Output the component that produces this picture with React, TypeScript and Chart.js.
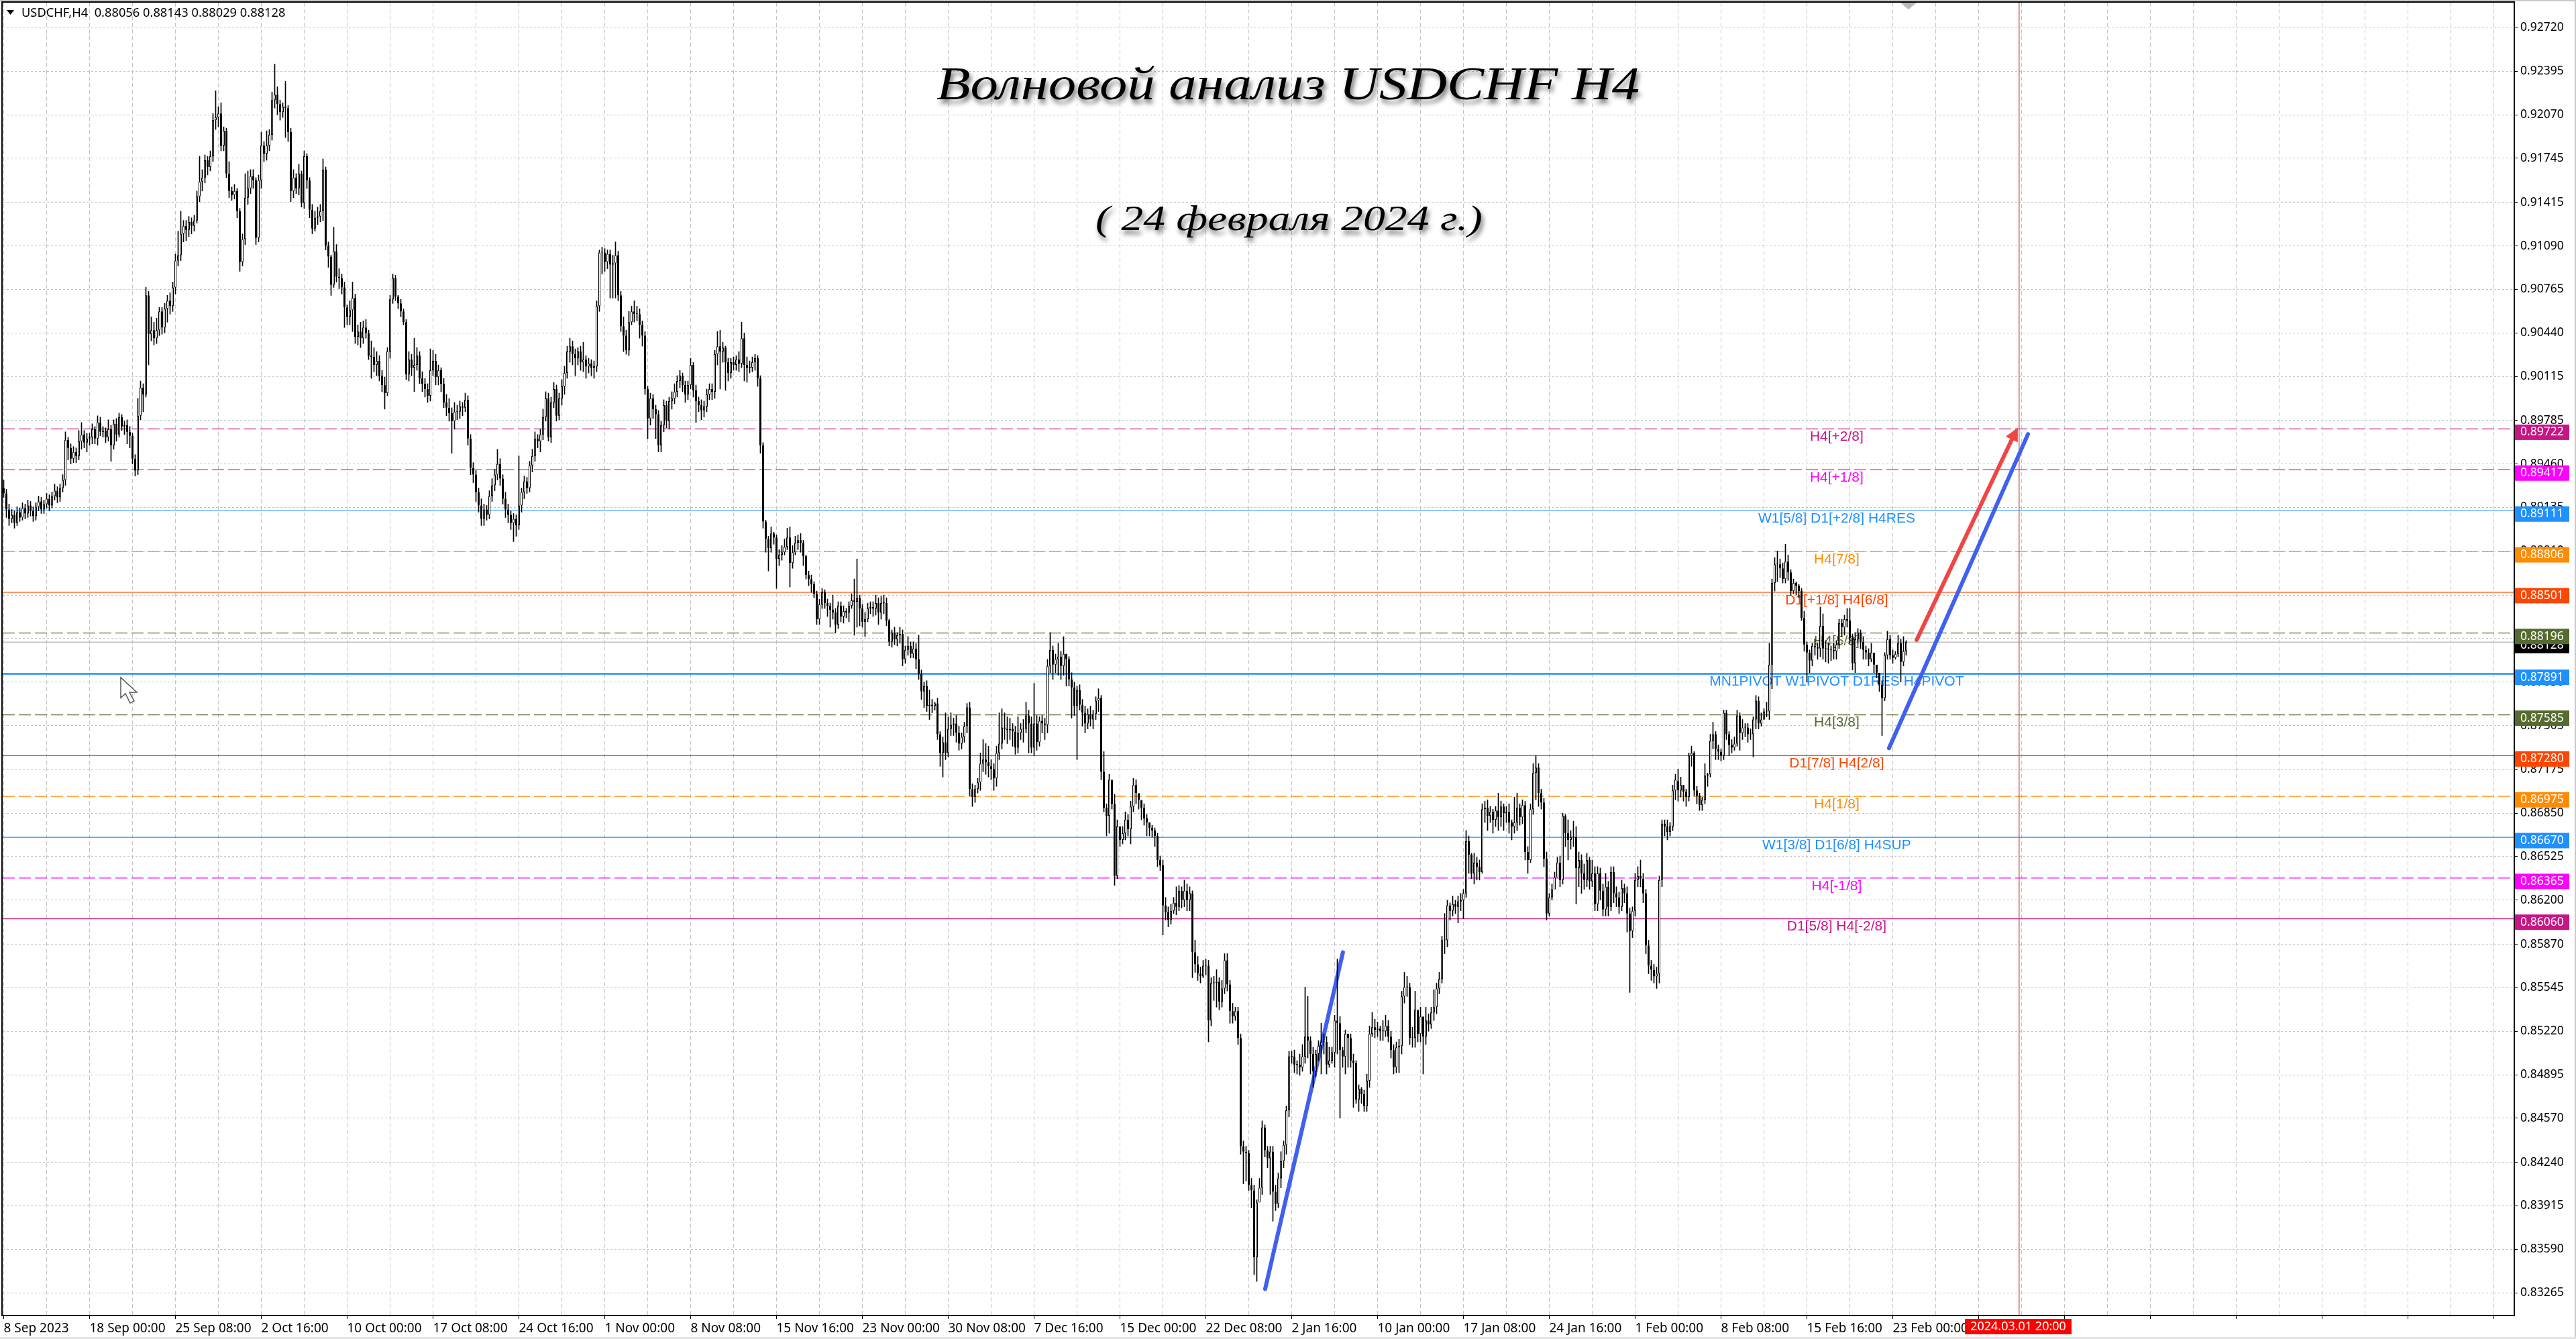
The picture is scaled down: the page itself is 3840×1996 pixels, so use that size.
import { useEffect, useRef } from "react";
import { Chart, registerables, type Plugin } from "chart.js";

Chart.register(...registerables);

// H4 candles, in units of 0.0001
const opens = [
  8928,8924,8912,8905,8908,8902,8910,8906,8913,8909,
  8915,8911,8907,8914,8918,8912,8916,8920,8915,8922,
  8926,8921,8928,8934,8964,8958,8950,8955,8952,8963,
  8968,8962,8965,8966,8972,8965,8977,8970,8971,8966,
  8972,8960,8976,8968,8981,8974,8975,8970,8967,8950,
  8941,8982,9003,8998,9072,9043,9046,9040,9046,9060,
  9048,9062,9068,9064,9078,9098,9102,9118,9124,9121,
  9127,9124,9128,9146,9157,9160,9173,9168,9176,9203,
  9205,9208,9184,9195,9163,9150,9147,9150,9135,9097,
  9114,9145,9152,9161,9158,9115,9158,9184,9178,9184,
  9192,9218,9222,9215,9209,9213,9212,9194,9150,9160,
  9152,9163,9141,9176,9158,9136,9122,9130,9131,9135,
  9166,9109,9101,9080,9105,9086,9085,9078,9063,9056,
  9061,9070,9041,9045,9040,9048,9044,9027,9026,9020,
  9023,9012,9005,8999,9030,9069,9085,9071,9066,9060,
  9052,9013,9024,9018,9020,9027,9010,9006,9002,8997,
  9016,9023,9011,9016,9006,8992,8988,8984,8978,8985,
  8985,8989,8988,8994,8965,8943,8938,8925,8915,8905,
  8912,8908,8922,8930,8938,8946,8935,8920,8912,8908,
  8902,8905,8900,8915,8925,8933,8928,8945,8952,8965,
  8963,8968,8981,8995,8966,8992,9002,8982,8995,9004,
  9014,9030,9034,9028,9025,9030,9022,9024,9019,9021,
  9018,9019,9064,9104,9104,9097,9103,9095,9096,9102,
  9072,9049,9042,9031,9052,9060,9058,9058,9050,9042,
  9002,8980,8995,8987,8983,8960,8975,8990,8978,8993,
  8995,9000,9008,9012,9005,8998,9005,9020,9001,8993,
  8990,8986,8989,8998,9002,9000,9028,9034,9030,9033,
  9022,9014,9022,9020,9024,9021,9040,9020,9018,9018,
  9022,9025,9010,8960,8903,8890,8883,8894,8891,8875,
  8878,8880,8884,8891,8872,8880,8887,8889,8887,8877,
  8863,8860,8856,8849,8830,8841,8850,8842,8840,8837,
  8835,8826,8840,8832,8836,8835,8840,8844,8843,8846,
  8838,8828,8830,8838,8839,8838,8842,8835,8842,8842,
  8829,8813,8820,8815,8818,8819,8800,8807,8810,8804,
  8808,8800,8789,8776,8780,8765,8766,8765,8767,8744,
  8730,8738,8730,8748,8751,8752,8745,8737,8742,8750,
  8764,8703,8697,8703,8708,8722,8725,8723,8720,8718,
  8711,8730,8737,8749,8748,8747,8748,8746,8734,8745,
  8748,8748,8758,8752,8734,8752,8738,8754,8752,8751,
  8795,8807,8796,8800,8802,8795,8804,8800,8785,8779,
  8765,8777,8766,8760,8752,8759,8755,8759,8769,8771,
  8716,8689,8683,8710,8692,8638,8675,8665,8670,8680,
  8673,8690,8706,8700,8695,8689,8681,8678,8674,8672,
  8668,8650,8646,8616,8611,8605,8612,8618,8615,8627,
  8620,8627,8620,8625,8581,8572,8565,8563,8571,8571,
  8530,8558,8558,8559,8544,8554,8575,8557,8537,8533,
  8537,8517,8436,8432,8431,8407,8403,8353,8394,8405,
  8450,8433,8427,8432,8402,8393,8412,8425,8437,8463,
  8503,8503,8497,8497,8495,8503,8518,8515,8505,8492,
  8505,8511,8514,8514,8497,8500,8506,8530,8528,8508,
  8503,8520,8517,8500,8498,8471,8479,8475,8466,8485,
  8520,8525,8523,8524,8522,8522,8526,8518,8508,8495,
  8510,8511,8548,8555,8555,8517,8517,8538,8520,8533,
  8518,8530,8527,8536,8540,8554,8561,8590,8590,8616,
  8612,8617,8615,8619,8620,8625,8664,8654,8640,8648,
  8645,8641,8688,8689,8683,8686,8680,8687,8682,8690,
  8685,8686,8678,8675,8678,8689,8682,8691,8656,8650,
  8688,8715,8719,8700,8693,8651,8610,8622,8628,8637,
  8648,8635,8683,8670,8665,8667,8667,8644,8650,8640,
  8635,8650,8634,8640,8617,8640,8627,8613,8630,8615,
  8641,8625,8622,8615,8629,8625,8610,8597,8612,8635,
  8638,8636,8625,8586,8571,8568,8563,8565,8635,8677,
  8675,8671,8675,8702,8709,8702,8706,8701,8697,8728,
  8730,8702,8698,8691,8695,8713,8714,8739,8744,8733,
  8731,8728,8760,8744,8736,8734,8737,8758,8745,8749,
  8749,8744,8744,8755,8769,8752,8755,8761,8761,8796,
  8857,8871,8871,8868,8860,8873,8865,8851,8857,8855,
  8851,8831,8811,8805,8799,8810,8809,8808,8825,8808,
  8808,8807,8807,8806,8811,8827,8824,8830,8829,8816,
  8797,8815,8820,8813,8807,8805,8800,8805,8796,8790,
  8781,8771,8803,8815,8803,8801,8804,8812,8798,8806,
];
const closes = [
  8924,8912,8905,8908,8902,8910,8906,8913,8909,8915,
  8911,8907,8914,8918,8912,8916,8920,8915,8922,8926,
  8921,8928,8934,8964,8958,8950,8955,8952,8963,8968,
  8962,8965,8966,8972,8965,8977,8970,8971,8966,8972,
  8960,8976,8968,8981,8974,8975,8970,8967,8950,8941,
  8982,9003,8998,9072,9043,9046,9040,9046,9060,9048,
  9062,9068,9064,9078,9098,9102,9118,9124,9121,9127,
  9124,9128,9146,9157,9160,9173,9168,9176,9203,9205,
  9208,9184,9195,9163,9150,9147,9150,9135,9097,9114,
  9145,9152,9161,9158,9115,9158,9184,9178,9184,9192,
  9218,9222,9215,9209,9213,9212,9194,9150,9160,9152,
  9163,9141,9176,9158,9136,9122,9130,9131,9135,9166,
  9109,9101,9080,9105,9086,9085,9078,9063,9056,9061,
  9070,9041,9045,9040,9048,9044,9027,9026,9020,9023,
  9012,9005,8999,9030,9069,9085,9071,9066,9060,9052,
  9013,9024,9018,9020,9027,9010,9006,9002,8997,9016,
  9023,9011,9016,9006,8992,8988,8984,8978,8985,8985,
  8989,8988,8994,8965,8943,8938,8925,8915,8905,8912,
  8908,8922,8930,8938,8946,8935,8920,8912,8908,8902,
  8905,8900,8915,8925,8933,8928,8945,8952,8965,8963,
  8968,8981,8995,8966,8992,9002,8982,8995,9004,9014,
  9030,9034,9028,9025,9030,9022,9024,9019,9021,9018,
  9019,9064,9104,9104,9097,9103,9095,9096,9102,9072,
  9049,9042,9031,9052,9060,9058,9058,9050,9042,9002,
  8980,8995,8987,8983,8960,8975,8990,8978,8993,8995,
  9000,9008,9012,9005,8998,9005,9020,9001,8993,8990,
  8986,8989,8998,9002,9000,9028,9034,9030,9033,9022,
  9014,9022,9020,9024,9021,9040,9020,9018,9018,9022,
  9025,9010,8960,8903,8890,8883,8894,8891,8875,8878,
  8880,8884,8891,8872,8880,8887,8889,8887,8877,8863,
  8860,8856,8849,8830,8841,8850,8842,8840,8837,8835,
  8826,8840,8832,8836,8835,8840,8844,8843,8846,8838,
  8828,8830,8838,8839,8838,8842,8835,8842,8842,8829,
  8813,8820,8815,8818,8819,8800,8807,8810,8804,8808,
  8800,8789,8776,8780,8765,8766,8765,8767,8744,8730,
  8738,8730,8748,8751,8752,8745,8737,8742,8750,8764,
  8703,8697,8703,8708,8722,8725,8723,8720,8718,8711,
  8730,8737,8749,8748,8747,8748,8746,8734,8745,8748,
  8748,8758,8752,8734,8752,8738,8754,8752,8751,8795,
  8807,8796,8800,8802,8795,8804,8800,8785,8779,8765,
  8777,8766,8760,8752,8759,8755,8759,8769,8771,8716,
  8689,8683,8710,8692,8638,8675,8665,8670,8680,8673,
  8690,8706,8700,8695,8689,8681,8678,8674,8672,8668,
  8650,8646,8616,8611,8605,8612,8618,8615,8627,8620,
  8627,8620,8625,8581,8572,8565,8563,8571,8571,8530,
  8558,8558,8559,8544,8554,8575,8557,8537,8533,8537,
  8517,8436,8432,8431,8407,8403,8353,8394,8405,8450,
  8433,8427,8432,8402,8393,8412,8425,8437,8463,8503,
  8503,8497,8497,8495,8503,8518,8515,8505,8492,8505,
  8511,8514,8514,8497,8500,8506,8530,8528,8508,8503,
  8520,8517,8500,8498,8471,8479,8475,8466,8485,8520,
  8525,8523,8524,8522,8522,8526,8518,8508,8495,8510,
  8511,8548,8555,8555,8517,8517,8538,8520,8533,8518,
  8530,8527,8536,8540,8554,8561,8590,8590,8616,8612,
  8617,8615,8619,8620,8625,8664,8654,8640,8648,8645,
  8641,8688,8689,8683,8686,8680,8687,8682,8690,8685,
  8686,8678,8675,8678,8689,8682,8691,8656,8650,8688,
  8715,8719,8700,8693,8651,8610,8622,8628,8637,8648,
  8635,8683,8670,8665,8667,8667,8644,8650,8640,8635,
  8650,8634,8640,8617,8640,8627,8613,8630,8615,8641,
  8625,8622,8615,8629,8625,8610,8597,8612,8635,8638,
  8636,8625,8586,8571,8568,8563,8565,8635,8677,8675,
  8671,8675,8702,8710,8702,8706,8701,8697,8728,8730,
  8702,8698,8691,8695,8713,8714,8739,8744,8733,8731,
  8728,8760,8744,8736,8734,8737,8758,8745,8749,8749,
  8744,8744,8755,8769,8752,8755,8761,8761,8796,8857,
  8871,8871,8868,8860,8873,8865,8851,8857,8855,8851,
  8831,8811,8805,8799,8810,8809,8808,8825,8808,8808,
  8807,8807,8806,8811,8827,8824,8830,8829,8816,8797,
  8815,8820,8813,8807,8805,8800,8805,8796,8790,8781,
  8771,8803,8815,8803,8801,8804,8812,8798,8806,8813,
];
const highs = [
  8934,8927,8916,8912,8911,8914,8913,8917,8916,8919,
  8918,8914,8917,8922,8921,8919,8924,8923,8925,8931,
  8929,8931,8938,8970,8966,8961,8959,8958,8971,8977,
  8971,8969,8969,8976,8974,8982,8981,8974,8973,8979,
  8975,8979,8980,8984,8983,8978,8979,8974,8969,8953,
  8995,9008,9006,9078,9075,9056,9052,9055,9063,9063,
  9066,9072,9074,9082,9103,9120,9135,9128,9128,9131,
  9130,9132,9150,9176,9166,9177,9176,9180,9208,9225,
  9213,9216,9198,9197,9172,9153,9155,9152,9137,9118,
  9163,9165,9166,9166,9160,9162,9194,9187,9195,9196,
  9224,9245,9228,9218,9216,9232,9214,9197,9166,9163,
  9170,9165,9180,9178,9160,9140,9135,9138,9140,9174,
  9168,9112,9102,9123,9110,9092,9088,9082,9065,9068,
  9082,9073,9050,9052,9053,9054,9046,9038,9033,9030,
  9027,9016,9011,9033,9072,9088,9087,9072,9069,9062,
  9054,9030,9028,9040,9033,9030,9015,9010,9006,9032,
  9031,9028,9020,9018,9010,8998,8995,8988,8992,8990,
  8993,8992,8999,8997,8968,8947,8941,8928,8920,8916,
  8915,8926,8935,8942,8957,8950,8938,8925,8916,8911,
  8909,8908,8952,8928,8937,8936,8948,8957,8970,8968,
  8972,8987,9000,8999,8996,9007,9005,8999,9009,9019,
  9034,9040,9038,9032,9033,9034,9037,9027,9025,9024,
  9023,9068,9106,9108,9107,9106,9106,9102,9112,9105,
  9075,9056,9046,9060,9064,9068,9064,9062,9053,9045,
  9004,8999,8998,8990,8986,8978,8994,8993,8996,9000,
  9006,9012,9016,9014,9008,9008,9025,9022,9005,8996,
  8994,8993,9002,9006,9006,9031,9045,9046,9037,9034,
  9025,9025,9026,9027,9030,9052,9044,9026,9023,9026,
  9028,9027,9012,8962,8904,8892,8899,8895,8893,8882,
  8885,8890,8898,8899,8885,8892,8893,8894,8889,8878,
  8866,8863,8858,8851,8845,8853,8852,8845,8842,8848,
  8838,8843,8843,8840,8838,8843,8849,8860,8875,8848,
  8841,8835,8842,8843,8843,8848,8846,8847,8848,8846,
  8830,8822,8824,8820,8824,8822,8810,8817,8813,8813,
  8812,8818,8792,8783,8784,8777,8770,8768,8771,8746,
  8742,8760,8757,8760,8756,8758,8750,8745,8753,8767,
  8768,8707,8706,8711,8730,8740,8737,8735,8725,8722,
  8735,8760,8763,8760,8757,8756,8752,8750,8757,8752,
  8755,8768,8762,8757,8782,8758,8757,8758,8756,8800,
  8820,8810,8804,8812,8806,8817,8804,8802,8790,8783,
  8780,8781,8770,8765,8763,8765,8762,8772,8778,8773,
  8731,8692,8714,8708,8699,8680,8672,8675,8686,8684,
  8694,8711,8710,8698,8694,8692,8684,8678,8676,8674,
  8670,8653,8650,8622,8615,8617,8622,8630,8631,8630,
  8635,8632,8630,8627,8590,8578,8570,8575,8576,8575,
  8562,8563,8568,8562,8560,8580,8580,8560,8543,8540,
  8540,8520,8440,8436,8433,8412,8407,8396,8412,8455,
  8452,8436,8436,8436,8407,8416,8432,8440,8466,8507,
  8507,8508,8500,8505,8512,8555,8548,8518,8510,8508,
  8515,8528,8520,8518,8510,8510,8534,8576,8533,8510,
  8523,8520,8520,8505,8500,8482,8480,8478,8490,8526,
  8536,8531,8529,8526,8530,8534,8530,8522,8512,8514,
  8516,8552,8566,8563,8558,8525,8552,8530,8540,8530,
  8540,8535,8540,8553,8558,8566,8593,8610,8620,8618,
  8623,8620,8623,8625,8628,8672,8668,8655,8655,8652,
  8650,8692,8694,8695,8690,8688,8690,8700,8694,8692,
  8690,8692,8680,8697,8700,8692,8695,8694,8660,8692,
  8722,8728,8722,8703,8696,8656,8625,8632,8641,8652,
  8653,8685,8684,8680,8672,8679,8675,8656,8654,8647,
  8655,8652,8650,8645,8645,8644,8632,8640,8634,8645,
  8645,8630,8626,8635,8632,8630,8614,8615,8640,8645,
  8650,8640,8628,8590,8575,8572,8570,8638,8680,8680,
  8680,8678,8706,8714,8718,8712,8706,8703,8730,8735,
  8731,8705,8700,8697,8722,8715,8744,8753,8746,8736,
  8733,8762,8762,8746,8740,8742,8762,8760,8755,8752,
  8752,8748,8757,8773,8772,8760,8763,8768,8812,8860,
  8876,8881,8875,8872,8886,8878,8867,8860,8858,8856,
  8853,8836,8813,8807,8812,8815,8812,8839,8834,8814,
  8812,8810,8812,8814,8830,8830,8833,8838,8838,8819,
  8820,8823,8822,8817,8810,8808,8812,8800,8793,8787,
  8784,8805,8821,8818,8807,8806,8818,8815,8817,8814,
];
const lows = [
  8921,8906,8900,8902,8898,8900,8903,8904,8905,8906,
  8907,8903,8904,8911,8909,8909,8913,8911,8913,8919,
  8917,8918,8925,8930,8949,8946,8947,8947,8949,8957,
  8958,8955,8960,8961,8961,8960,8967,8966,8962,8963,
  8948,8957,8963,8966,8971,8968,8961,8958,8946,8937,
  8938,8979,8985,8996,9020,9038,9035,9036,9042,9043,
  9044,9052,9058,9060,9073,9094,9098,9112,9113,9116,
  9118,9120,9126,9142,9150,9156,9162,9165,9172,9196,
  9198,9180,9180,9160,9145,9143,9144,9130,9090,9094,
  9110,9140,9148,9152,9110,9112,9152,9172,9173,9180,
  9188,9212,9207,9203,9205,9190,9187,9142,9145,9148,
  9147,9138,9137,9152,9130,9118,9120,9125,9127,9128,
  9106,9093,9072,9078,9082,9077,9073,9048,9050,9050,
  9045,9036,9035,9033,9036,9040,9024,9010,9015,9012,
  9008,9000,8987,8997,9025,9066,9068,9062,9056,9050,
  9009,9008,9012,9000,9016,9006,9000,8996,8992,8993,
  9012,9005,9005,9000,8988,8982,8978,8954,8972,8979,
  8980,8982,8985,8960,8938,8932,8918,8910,8900,8900,
  8904,8905,8918,8926,8934,8930,8916,8906,8902,8897,
  8888,8892,8897,8910,8920,8924,8925,8940,8948,8958,
  8955,8964,8978,8963,8962,8988,8978,8979,8990,8998,
  9010,9022,9020,9012,9020,9016,9015,9010,9014,9012,
  9010,9015,9060,9088,9090,9092,9070,9070,9070,9068,
  9045,9030,9028,9027,9050,9052,9053,9040,9034,8998,
  8965,8975,8980,8965,8955,8955,8970,8973,8972,8987,
  8991,8996,9003,9000,8992,8994,9002,8996,8977,8985,
  8979,8981,8985,8994,8994,8995,9020,9002,9022,9001,
  9008,9010,9016,9016,9015,9018,9008,9007,9014,9015,
  9016,9004,8954,8898,8880,8866,8880,8886,8853,8870,
  8874,8878,8882,8854,8868,8878,8882,8880,8870,8860,
  8855,8850,8846,8826,8826,8838,8838,8832,8824,8830,
  8820,8823,8828,8827,8831,8828,8838,8818,8824,8825,
  8824,8817,8828,8834,8832,8833,8826,8830,8834,8825,
  8810,8809,8811,8810,8812,8795,8797,8803,8801,8801,
  8793,8785,8770,8764,8761,8755,8760,8762,8740,8720,
  8712,8725,8727,8743,8743,8738,8732,8733,8738,8745,
  8698,8690,8693,8700,8702,8716,8714,8712,8710,8702,
  8705,8725,8733,8740,8737,8740,8735,8729,8730,8740,
  8738,8745,8730,8730,8728,8732,8735,8745,8740,8745,
  8790,8785,8790,8788,8785,8788,8780,8780,8756,8758,
  8725,8762,8750,8745,8748,8750,8748,8755,8761,8710,
  8686,8668,8670,8688,8631,8636,8660,8662,8665,8668,
  8662,8686,8692,8688,8680,8676,8668,8668,8667,8660,
  8645,8642,8594,8605,8600,8602,8610,8609,8612,8614,
  8615,8612,8612,8562,8566,8560,8558,8562,8564,8514,
  8526,8545,8540,8538,8540,8550,8552,8528,8528,8530,
  8512,8430,8408,8410,8403,8390,8340,8335,8395,8400,
  8428,8420,8400,8380,8388,8390,8405,8420,8430,8458,
  8498,8491,8490,8489,8492,8498,8502,8490,8480,8488,
  8500,8490,8505,8490,8495,8498,8495,8505,8457,8495,
  8490,8495,8495,8465,8468,8462,8468,8462,8462,8480,
  8518,8517,8518,8515,8515,8518,8514,8502,8490,8491,
  8491,8505,8543,8548,8512,8510,8510,8514,8514,8490,
  8512,8522,8524,8530,8535,8550,8558,8580,8585,8605,
  8608,8610,8603,8612,8606,8622,8640,8636,8632,8635,
  8635,8640,8678,8672,8678,8670,8675,8672,8675,8672,
  8678,8670,8665,8670,8672,8676,8677,8650,8640,8648,
  8684,8695,8690,8688,8645,8605,8608,8620,8630,8638,
  8630,8632,8660,8650,8658,8660,8617,8630,8625,8628,
  8630,8628,8630,8612,8612,8620,8608,8608,8608,8612,
  8618,8615,8610,8612,8618,8596,8551,8592,8608,8630,
  8630,8618,8580,8565,8560,8558,8554,8558,8630,8668,
  8665,8668,8672,8695,8694,8697,8694,8690,8694,8720,
  8698,8692,8687,8687,8692,8705,8712,8733,8725,8725,
  8724,8725,8740,8728,8730,8732,8735,8732,8740,8742,
  8738,8740,8727,8748,8748,8750,8755,8757,8755,8778,
  8851,8858,8861,8857,8857,8859,8848,8849,8848,8846,
  8829,8806,8783,8790,8795,8803,8800,8802,8800,8798,
  8797,8799,8800,8800,8808,8817,8818,8824,8812,8792,
  8790,8812,8808,8800,8800,8795,8798,8790,8786,8776,
  8743,8769,8800,8800,8797,8800,8802,8783,8795,8803,
];

const yTickValues = [
  0.9272,0.92395,0.9207,0.91745,0.91415,0.9109,0.90765,0.9044,0.90115,0.89785,
  0.8946,0.89135,0.8881,0.8848,0.88155,0.8783,0.87505,0.87175,0.8685,0.86525,
  0.862,0.8587,0.85545,0.8522,0.84895,0.8457,0.8424,0.83915,0.8359,0.83265,
];
const xTickLabels = [
  "8 Sep 2023","18 Sep 00:00","25 Sep 08:00","2 Oct 16:00","10 Oct 00:00","17 Oct 08:00",
  "24 Oct 16:00","1 Nov 00:00","8 Nov 08:00","15 Nov 16:00","23 Nov 00:00","30 Nov 08:00",
  "7 Dec 16:00","15 Dec 00:00","22 Dec 08:00","2 Jan 16:00","10 Jan 00:00","17 Jan 08:00",
  "24 Jan 16:00","1 Feb 00:00","8 Feb 08:00","15 Feb 16:00","23 Feb 00:00",
];

// Murrey levels drawn across the chart
const levelPrices = [0.89722,0.89417,0.89111,0.88806,0.88501,0.88196,0.87891,0.87585,0.8728,0.86975,0.8667,0.86365,0.8606];
const levelNames = [
  "H4[+2/8]","H4[+1/8]","W1[5/8] D1[+2/8] H4RES","H4[7/8]","D1[+1/8] H4[6/8]","H4[5/8]",
  "MN1PIVOT W1PIVOT D1RES H4PIVOT","H4[3/8]","D1[7/8] H4[2/8]","H4[1/8]","W1[3/8] D1[6/8] H4SUP",
  "H4[-1/8]","D1[5/8] H4[-2/8]",
];
const levelColors = ["#C71585","#FF00FF","#1E90FF","#FF8C00","#FF4500","#556B2F","#1E90FF","#556B2F","#FF4500","#FF8C00","#1E90FF","#FF00FF","#C71585"];
const levelDashed = [true,true,false,true,false,true,false,true,false,true,false,true,false];
const levelWidths = [1.2,1.2,1.2,1.2,1.2,1.2,2.5,1.2,1.2,1.2,1.2,1.2,1.2];
const lastPrice = 0.88128;

// hand drawn trend lines, [bar position] and [price]
const blueOneX = [470.1,499.1];
const blueOneY = [0.83293,0.8581];
const blueTwoX = [702.6,754.4];
const blueTwoY = [0.87336,0.89683];
const redX = [712.9,748.4];
const redY = [0.88144,0.89644];
const arrowHeadX = [750.6,746.1,750.6];
const arrowHeadY = [0.89732,0.89665,0.89623];
const futureBar = 751.1;

const X_MIN = -0.375;
const X_MAX = 935.625;
const Y_MIN = 0.83095;
const Y_MAX = 0.92908;
const xGridValues = Array.from({ length: 59 }, (_, i) => i * 16);

const drawFitted = (ctx: CanvasRenderingContext2D, text: string, x: number, y: number, width: number) => {
  const sx = width / ctx.measureText(text).width;
  ctx.save();
  ctx.translate(x, y);
  ctx.scale(sx, 1);
  ctx.fillText(text, 0, 0);
  ctx.restore();
};

const levelLabels: Plugin = {
  id: "levelLabels",
  beforeDatasetsDraw(chart) {
    const { ctx, scales } = chart;
    ctx.save();
    ctx.font = "21px 'Liberation Sans'";
    ctx.textAlign = "center";
    ctx.textBaseline = "middle";
    levelNames.forEach((name, i) => {
      ctx.fillStyle = levelColors[i];
      ctx.fillText(name, scales.x.getPixelForValue(683.1), scales.y.getPixelForValue(levelPrices[i]) + 12);
    });
    ctx.restore();
  },
};

const frame: Plugin = {
  id: "frame",
  beforeDraw(chart) {
    const { ctx, width, height } = chart;
    ctx.save();
    ctx.fillStyle = "#fff";
    ctx.fillRect(0, 0, width, height);
    ctx.fillStyle = "#c8c8c8";
    ctx.fillRect(0, 0, width, 2);
    ctx.fillRect(width - 2, 0, 2, height);
    ctx.fillStyle = "#e4e4e4";
    ctx.fillRect(0, height - 3, width, 3);
    ctx.restore();
  },
  afterDatasetsDraw(chart) {
    const { ctx, scales, chartArea } = chart;
    ctx.save();
    ctx.fillStyle = "#F04545";
    ctx.beginPath();
    arrowHeadX.forEach((v, i) => {
      const x = scales.x.getPixelForValue(v);
      const y = scales.y.getPixelForValue(arrowHeadY[i]);
      if (i === 0) ctx.moveTo(x, y);
      else ctx.lineTo(x, y);
    });
    ctx.closePath();
    ctx.fill();

    // chart border
    ctx.strokeStyle = "#000";
    ctx.lineWidth = 2;
    ctx.strokeRect(chartArea.left - 1, chartArea.top - 1, chartArea.width + 1, chartArea.height + 1);
    ctx.restore();
  },
  afterDraw(chart) {
    const { ctx, scales } = chart;
    ctx.save();

    // price badges on the axis
    const badge = (price: number, color: string) => {
      const y = scales.y.getPixelForValue(price) + 5;
      ctx.fillStyle = color;
      ctx.fillRect(3749, y - 11.5, 81, 23);
      ctx.fillStyle = "#fff";
      ctx.font = "17.5px 'Noto Sans'";
      ctx.textAlign = "left";
      ctx.textBaseline = "middle";
      ctx.fillText(price.toFixed(5), 3757, y);
    };
    badge(lastPrice, "#000");
    levelPrices.forEach((p, i) => badge(p, levelColors[i]));

    // time badge of the vertical line
    ctx.fillStyle = "#FF0000";
    ctx.fillRect(2929, 1966, 159, 23);
    ctx.fillStyle = "#fff";
    ctx.font = "18px 'Noto Sans'";
    ctx.textAlign = "center";
    ctx.textBaseline = "middle";
    ctx.fillText("2024.03.01 20:00", 3008.5, 1978);

    // header
    ctx.fillStyle = "#000";
    ctx.beginPath();
    ctx.moveTo(10, 15);
    ctx.lineTo(21, 15);
    ctx.lineTo(15.5, 22);
    ctx.closePath();
    ctx.fill();
    ctx.font = "18.3px 'Noto Sans'";
    ctx.textAlign = "left";
    ctx.fillText("USDCHF,H4  0.88056 0.88143 0.88029 0.88128", 32, 20);

    // shift marker and mouse pointer
    ctx.fillStyle = "#b8b8b8";
    ctx.beginPath();
    ctx.moveTo(2833, 4);
    ctx.lineTo(2857, 4);
    ctx.lineTo(2845, 14);
    ctx.closePath();
    ctx.fill();
    ctx.fillStyle = "#fff";
    ctx.strokeStyle = "#555";
    ctx.lineWidth = 1.5;
    ctx.beginPath();
    ctx.moveTo(180, 1010);
    ctx.lineTo(180, 1040);
    ctx.lineTo(187, 1034);
    ctx.lineTo(194, 1048);
    ctx.lineTo(200, 1045);
    ctx.lineTo(193, 1032);
    ctx.lineTo(204, 1032);
    ctx.closePath();
    ctx.fill();
    ctx.stroke();

    // titles
    ctx.fillStyle = "#000";
    ctx.shadowColor = "rgba(0,0,0,0.55)";
    ctx.shadowBlur = 7;
    ctx.shadowOffsetX = 3;
    ctx.shadowOffsetY = 6;
    ctx.textAlign = "left";
    ctx.textBaseline = "alphabetic";
    ctx.font = "italic 70px 'Liberation Serif'";
    drawFitted(ctx, "Волновой анализ USDCHF H4", 1396, 148, 1048);
    ctx.font = "italic 52px 'Liberation Serif'";
    drawFitted(ctx, "( 24 февраля 2024 г.)", 1633, 343, 577);
    ctx.restore();
  },
};

export default function App() {
  const canvasRef = useRef<HTMLCanvasElement>(null);

  useEffect(() => {
    document.body.style.margin = "0";
    if (!canvasRef.current) return;

    const levelSets = levelPrices.map((p, i) => ({
      type: "line" as const,
      data: [{ x: X_MIN, y: p }, { x: X_MAX, y: p }],
      borderColor: levelColors[i],
      borderWidth: levelWidths[i],
      borderDash: levelDashed[i] ? [18, 6] : [],
      pointRadius: 0,
      order: 10,
    }));
    const plainLine = (xs: number[], ys: number[], color: string, width: number, order: number) => ({
      type: "line" as const,
      data: xs.map((x, i) => ({ x, y: ys[i] })),
      borderColor: color,
      borderWidth: width,
      borderCapStyle: "round" as const,
      pointRadius: 0,
      order,
    });

    const chart = new Chart(canvasRef.current, {
      type: "bar",
      data: {
        datasets: [
          ...levelSets,
          plainLine([X_MIN, X_MAX], [lastPrice, lastPrice], "#c0c0c0", 1.5, 11),
          plainLine([futureBar, futureBar], [Y_MIN, Y_MAX], "#D04848", 1.2, 9),
          plainLine(blueOneX, blueOneY, "#4060F0", 6, 5),
          plainLine(blueTwoX, blueTwoY, "#4060F0", 6, 5),
          plainLine(redX, redY, "#F04545", 6, 5),
          {
            type: "bar" as const,
            data: highs.map((h, i) => ({ x: i, y: [lows[i] / 10000, h / 10000] })) as any,
            backgroundColor: "#000",
            barThickness: 1,
            grouped: false,
            order: 3,
          },
          {
            type: "bar" as const,
            data: opens.map((o, i) => ({ x: i, y: [o / 10000, closes[i] / 10000] })) as any,
            backgroundColor: opens.map((o, i) => (closes[i] >= o ? "#fff" : "#000")),
            borderColor: "#000",
            borderWidth: 1,
            borderSkipped: false,
            inflateAmount: 0,
            minBarLength: 1,
            barThickness: 3,
            grouped: false,
            order: 2,
          },
        ],
      },
      options: {
        animation: false,
        responsive: false,
        devicePixelRatio: 1,
        events: [],
        layout: { autoPadding: false, padding: { left: 4, top: 4, right: 0, bottom: 0 } },
        plugins: { legend: { display: false }, tooltip: { enabled: false } },
        scales: {
          x: {
            type: "linear",
            offset: false,
            min: X_MIN,
            max: X_MAX,
            afterBuildTicks: (s) => {
              s.ticks = xGridValues.map((value) => ({ value }));
            },
            afterFit: (s) => {
              s.height = 35;
              s.paddingLeft = 0;
              s.paddingRight = 0;
            },
            border: { display: false, dash: [6, 4] },
            grid: {
              offset: false,
              color: "#c4c4c4",
              tickLength: 5,
              tickColor: (c) => (c.tick && c.tick.value % 32 === 0 ? "#000" : "rgba(0,0,0,0)"),
            },
            ticks: {
              autoSkip: false,
              maxRotation: 0,
              align: "start",
              padding: 3,
              color: "#000",
              font: { family: "'Noto Sans'", size: 19 },
              callback: (v) => xTickLabels[Number(v) / 32] ?? "",
            },
          },
          y: {
            type: "linear",
            position: "right",
            min: Y_MIN,
            max: Y_MAX,
            afterBuildTicks: (s) => {
              s.ticks = yTickValues.map((value) => ({ value }));
            },
            afterFit: (s) => {
              s.width = 92;
              s.paddingTop = 0;
              s.paddingBottom = 0;
            },
            border: { display: false, dash: [3, 3] },
            grid: { color: "#c4c4c4", tickLength: 5, tickColor: "#000" },
            ticks: {
              autoSkip: false,
              padding: 4,
              color: "#000",
              font: { family: "'Noto Sans'", size: 17.5 },
              callback: (v) => Number(v).toFixed(5),
            },
          },
        },
      },
      plugins: [frame, levelLabels],
    });

    return () => chart.destroy();
  }, []);

  return <canvas ref={canvasRef} width={3840} height={1996} style={{ display: "block" }} />;
}
